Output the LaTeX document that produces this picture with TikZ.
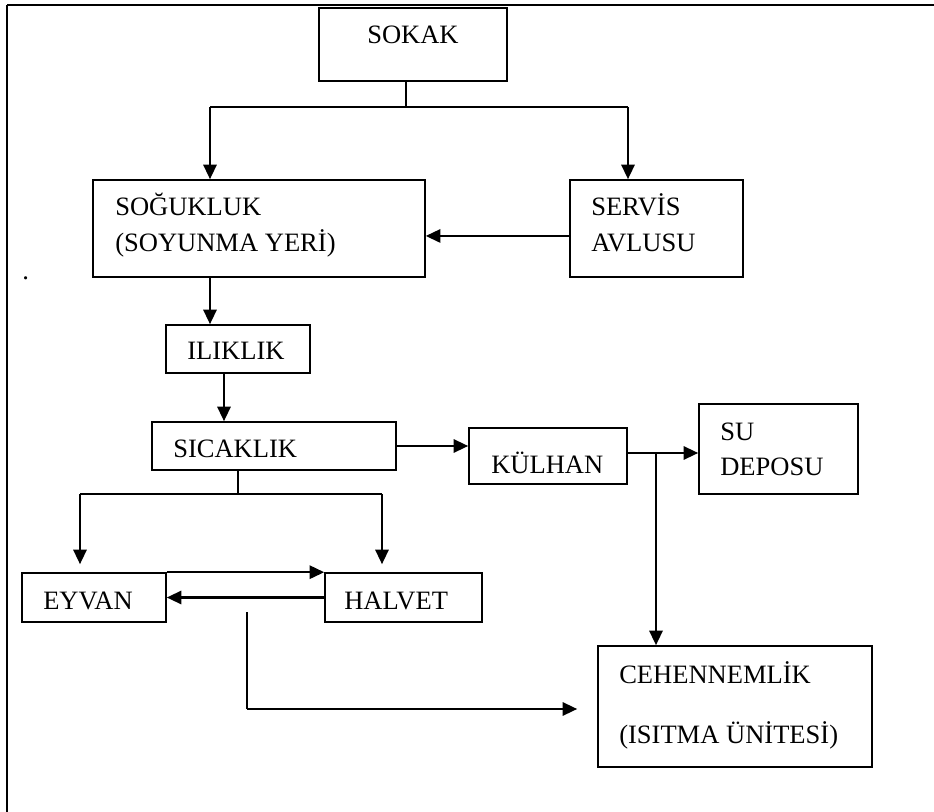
\documentclass[tikz,border=0pt]{standalone}
\usepackage{fontspec}
\setmainfont{Liberation Serif}
\usetikzlibrary{arrows.meta,calc}
\tikzset{
  box/.style={draw, line width=1.2pt, inner sep=0pt, fill=none},
  lbl/.style={inner sep=0pt, anchor=base west, font=\fontsize{19.9}{24}\selectfont},
  arr/.style={line width=1.7pt, -{Triangle[length=11pt,width=10pt]}},
  thinl/.style={line width=0.9pt},
  frame/.style={line width=1.6pt}
}
\begin{document}
\begin{tikzpicture}[x=0.75pt,y=-0.75pt]
\useasboundingbox (0,0) rectangle (934,812);
% frame
\coordinate (fbl) at (7,812);
\coordinate (ftl) at (7,5);
\coordinate (ftr) at (934,5);
\draw[frame] (fbl) -- (ftl);
\draw[line width=2.1pt] (ftl) -- (ftr);

% boxes
\node[box, minimum width=141pt, minimum height=54.75pt] (sokak) at (413,44.5) {};
\node[box, minimum width=249pt, minimum height=72.75pt] (sogukluk) at (259,228.5) {};
\node[box, minimum width=129.75pt, minimum height=72.75pt] (servis) at (656.5,228.5) {};
\node[box, minimum width=108pt, minimum height=36pt] (ilik) at (238,349) {};
\node[box, minimum width=183pt, minimum height=36pt] (sicak) at (274,446) {};
\node[box, minimum width=118.5pt, minimum height=42pt] (kulhan) at (548,456) {};
\node[box, minimum width=119.25pt, minimum height=67.5pt] (su) at (778.5,449) {};
\node[box, minimum width=108pt, minimum height=36.75pt] (eyvan) at (94,597.5) {};
\node[box, minimum width=117.75pt, minimum height=36.75pt] (halvet) at (403.5,597.5) {};
\node[box, minimum width=205.5pt, minimum height=90.75pt] (cehen) at (735,706.5) {};

% texts
\node[lbl] (tsokak) at (367,44) {SOKAK};
\node[lbl] (tsog1) at (115,216) {SOĞUKLUK};
\node[lbl] (tsog2) at (115,252) {(SOYUNMA YERİ)};
\node[lbl] (tser1) at (591,216) {SERVİS};
\node[lbl] (tser2) at (591,252) {AVLUSU};
\node[lbl] (tilik) at (187,360) {ILIKLIK};
\node[lbl] (tsicak) at (173,457) {SICAKLIK};
\node[lbl] (tkulhan) at (491,473) {KÜLHAN};
\node[lbl] (tsu1) at (720,440) {SU};
\node[lbl] (tsu2) at (720,475) {DEPOSU};
\node[lbl] (teyvan) at (43,609) {EYVAN};
\node[lbl] (thalvet) at (344,609) {HALVET};
\node[lbl] (tceh1) at (619,683) {CEHENNEMLİK};
\node[lbl] (tceh2) at (619,743) {(ISITMA ÜNİTESİ)};
\node[lbl] (tdot) at (22,280) {.};

% top branch
\coordinate (barL) at (210,107);
\coordinate (barR) at (628,107);
\coordinate (barS) at (406,107);
\draw[thinl] (barS |- sokak.south) -- (barS);
\draw[thinl] (barL) -- (barR);
\draw[arr] (barL) -- (barL |- sogukluk.north);
\draw[arr] (barR) -- (barR |- servis.north);
\draw[arr] ([yshift=-5.6pt]servis.west) -- ([yshift=-5.6pt]sogukluk.east);
\draw[arr] (sogukluk.south -| barL) -- (ilik.north -| barL);
\draw[arr] ([xshift=-10.5pt]ilik.south) -- ([xshift=-10.5pt]ilik.south |- sicak.north);

% right branch
\draw[arr] (sicak.east) -- (sicak.east -| kulhan.west);
\coordinate (jn) at (656,453);
\draw[arr] (kulhan.east |- jn) -- (su.west |- jn);
\draw[arr] (jn) -- (jn |- cehen.north);

% lower branch
\coordinate (bL) at (80,494);
\coordinate (bR) at (382,494);
\coordinate (bS) at (238,494);
\draw[thinl] (bS |- sicak.south) -- (bS);
\draw[thinl] (bL) -- (bR);
\draw[arr, shorten >=6pt] (bL) -- (bL |- eyvan.north);
\draw[arr, shorten >=6pt] (bR) -- (bR |- halvet.north);
\draw[arr] (eyvan.north east) -- (halvet.north west);
\draw[arr] (halvet.west) -- (eyvan.east);

% to cehennemlik
\coordinate (ls) at (247,612);
\coordinate (lc) at (247,709);
\draw[thinl] (ls) -- (lc);
\draw[arr, shorten >=15pt] (lc) -- (lc -| cehen.west);
\end{tikzpicture}
\end{document}
